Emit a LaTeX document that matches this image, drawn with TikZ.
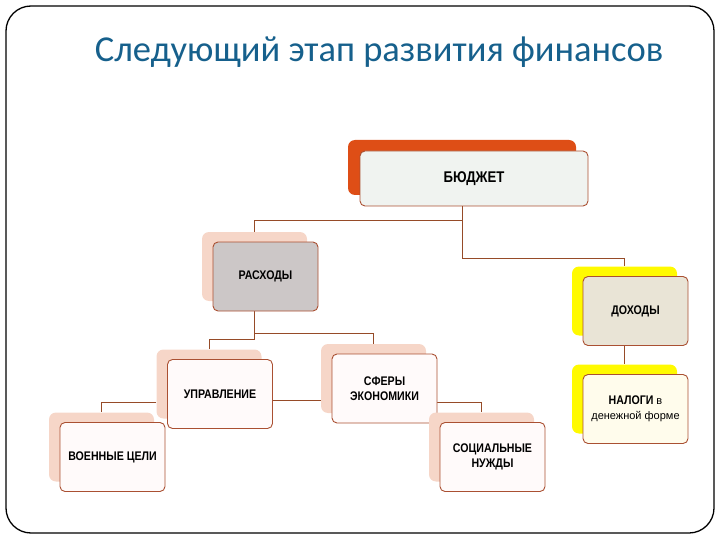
\documentclass[tikz,border=0pt]{standalone}
\usepackage{fontspec}
\usepackage{tikz}
\usetikzlibrary{calc,positioning,backgrounds}
\newfontfamily\titlefont{Carlito}
\newfontfamily\cardfont[FakeStretch=0.85]{Liberation Sans}
\newfontfamily\plainfont{Liberation Sans}
\definecolor{heading}{RGB}{22,96,140}
\definecolor{wire}{RGB}{150,75,40}
\definecolor{rim}{RGB}{170,80,50}
\definecolor{peach}{RGB}{246,214,200}
\definecolor{rust}{RGB}{222,78,22}
\definecolor{lemon}{RGB}{255,250,0}
\definecolor{mist}{RGB}{240,243,240}
\definecolor{ash}{RGB}{204,199,199}
\definecolor{sand}{RGB}{233,228,214}
\definecolor{snow}{RGB}{255,250,250}
\definecolor{cream}{RGB}{255,252,236}

\tikzset{
  card/.style={draw=rim,line width=0.9pt,rounded corners=5pt,minimum width=105pt,minimum height=69pt,inner sep=2pt,align=center,font=\cardfont\bfseries\fontsize{12.5}{14.5}\selectfont},
  shade/.style={rounded corners=7pt,minimum width=105pt,minimum height=69pt,inner sep=0pt},
  link/.style={draw=wire,line width=0.9pt}
}

\begin{document}
\begin{tikzpicture}[x=1pt,y=-1pt]
  \useasboundingbox (0,0) rectangle (720,540);
  \draw[line width=1.3pt,rounded corners=25pt] (6,6) rectangle (714,533);
  \node[font=\titlefont\fontsize{36.5}{42}\selectfont,text=heading] (title) at (379,52) {Следующий этап развития финансов};

  % back plates, then the cards on top
  \node[shade,fill=rust,minimum width=228pt,minimum height=55pt] (budget_b) at (462,167.5) {};
  \node[card,fill=mist,minimum width=228pt,minimum height=55pt,font=\cardfont\bfseries\fontsize{15.5}{17}\selectfont] (budget) at ($(budget_b)+(12,11)$) {БЮДЖЕТ};
  \foreach \n/\x/\y/\bk/\fr/\t in {expenses/254.5/266.5/peach/ash/{РАСХОДЫ},
      income/624.5/301/lemon/sand/{ДОХОДЫ},
      upr/209/384/peach/snow/{УПРАВЛЕНИЕ},
      sphere/373.5/378.5/peach/snow/{СФЕРЫ\\ЭКОНОМИКИ},
      army/101.5/447/peach/snow/{ВОЕННЫЕ ЦЕЛИ},
      social/481.5/447/peach/snow/{СОЦИАЛЬНЫЕ\\НУЖДЫ}} {
    \node[shade,fill=\bk] (\n_b) at (\x,\y) {};
    \node[card,fill=\fr] (\n) at ($(\n_b)+(11,10)$) {\t};
  }
  \node[shade,fill=lemon] (tax_b) at (624.5,399) {};
  \node[card,fill=cream] (tax) at ($(tax_b)+(11,10)$) {НАЛОГИ {\plainfont\mdseries\fontsize{11}{14.5}\selectfont в}\\{\plainfont\mdseries\fontsize{11}{14.5}\selectfont денежной форме}};

  \begin{scope}[on background layer]
    \coordinate (j1) at (0,220);
    \coordinate (j2) at (0,258);
    \coordinate (j3) at (0,339);
    \coordinate (j4) at (0,333);
    \coordinate (j5) at (0,402);
    \coordinate (j6) at (0,400);
    \draw[link] (budget_b.south) |- (j1 -| expenses_b.north) -- (expenses_b.north);
    \draw[link] (budget_b.south) |- (j2 -| income_b.north) -- (income_b.north);
    \draw[link] (expenses_b.south) |- (j3 -| upr_b.north) -- (upr_b.north);
    \draw[link] (expenses_b.south) |- (j4 -| sphere_b.north) -- (sphere_b.north);
    \draw[link] (upr_b.west |- j5) -| (army_b.north);
    \draw[link] (upr.east |- j6) -- (sphere_b.west |- j6);
    \draw[link] (sphere.east |- j5) -| (social_b.north);
    \draw[link] (income_b.south) -- (tax_b.north);
  \end{scope}
\end{tikzpicture}
\end{document}
